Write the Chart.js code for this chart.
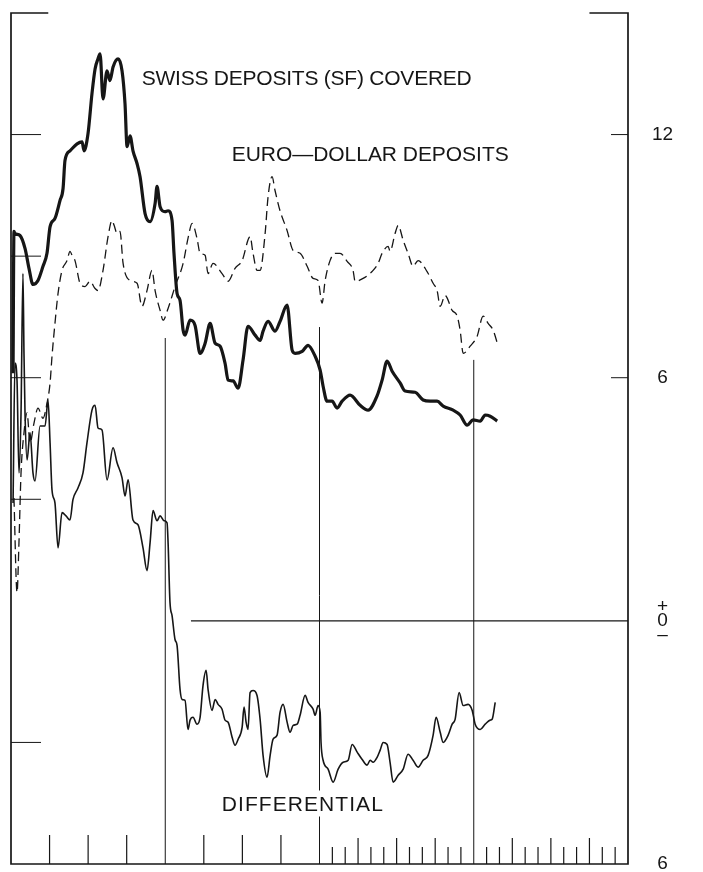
<!DOCTYPE html>
<html>
<head>
<meta charset="utf-8">
<title>Swiss deposits covered vs Euro-dollar deposits</title>
<script src="https://cdn.jsdelivr.net/npm/chart.js@4.4.1/dist/chart.umd.min.js"></script>
<style>
  html, body { margin: 0; padding: 0; background: #fff; }
  canvas { display: block; }
</style>
</head>
<body>
<canvas id="chart" width="703" height="872"></canvas>
<script>
// months from the start of the period, percent per annum
const swissCovered = [
  [0.16, 6.11], [0.23, 9.61], [0.31, 9.56], [0.70, 9.51], [1.09, 9.19], [1.40, 8.70], [1.71, 8.30],
  [2.10, 8.40], [2.49, 8.75], [2.80, 9.07], [3.04, 9.73], [3.42, 9.93], [3.81, 10.37], [4.05, 10.67],
  [4.20, 11.36], [4.59, 11.60], [5.14, 11.77], [5.53, 11.82], [5.68, 11.60], [5.99, 12.02], [6.30, 13.01],
  [6.54, 13.62], [6.77, 13.87], [6.93, 13.99], [7.16, 12.88], [7.47, 13.57], [7.70, 13.33], [7.94, 13.67],
  [8.33, 13.87], [8.64, 13.57], [8.87, 12.76], [9.03, 11.70], [9.26, 11.97], [9.49, 11.60], [9.81, 11.28],
  [10.04, 10.96], [10.43, 10.05], [10.82, 9.85], [11.21, 10.30], [11.36, 10.72], [11.60, 10.22], [11.98, 10.10],
  [12.22, 10.12], [12.53, 9.88], [12.68, 9.07], [12.92, 8.08], [13.15, 7.91], [13.39, 7.17], [13.54, 7.05],
  [13.93, 7.42], [14.32, 7.29], [14.71, 6.60], [15.10, 6.85], [15.49, 7.34], [15.88, 6.85], [16.26, 6.78],
  [16.65, 6.36], [16.89, 5.94], [17.28, 5.92], [17.67, 5.74], [18.05, 6.43], [18.44, 7.27], [18.99, 7.05],
  [19.38, 6.92], [19.61, 7.15], [20.00, 7.39], [20.54, 7.15], [20.93, 7.39], [21.48, 7.79], [21.87, 6.68],
  [22.10, 6.60], [22.65, 6.65], [23.11, 6.80], [23.66, 6.53], [24.05, 6.19], [24.28, 5.79], [24.59, 5.42],
  [24.98, 5.42], [25.37, 5.25], [25.76, 5.42], [26.38, 5.57], [27.16, 5.32], [27.78, 5.20], [28.48, 5.55],
  [28.87, 5.94], [29.26, 6.41], [29.65, 6.16], [30.27, 5.87], [30.66, 5.67], [31.44, 5.64], [32.06, 5.45],
  [32.61, 5.42], [33.15, 5.42], [33.62, 5.30], [34.40, 5.20], [34.94, 5.08], [35.49, 4.83], [35.95, 4.96],
  [36.50, 4.93], [36.89, 5.08], [37.28, 5.05], [37.82, 4.93]
];

const euroDollar = [
  [0.23, 3.03], [0.47, 0.70], [0.62, 1.93], [0.78, 3.65], [1.01, 4.64], [1.25, 5.13], [1.48, 4.39],
  [1.79, 4.88], [2.10, 5.25], [2.49, 5.00], [2.80, 5.37], [3.04, 5.87], [3.19, 6.53], [3.42, 7.34],
  [3.66, 8.08], [3.97, 8.65], [4.36, 8.89], [4.59, 9.12], [4.75, 9.02], [4.98, 8.89], [5.37, 8.33],
  [5.76, 8.25], [6.15, 8.38], [6.54, 8.20], [6.77, 8.15], [7.16, 8.65], [7.55, 9.48], [7.86, 9.88],
  [8.02, 9.76], [8.25, 9.56], [8.48, 9.61], [8.72, 8.82], [9.26, 8.40], [9.81, 8.33], [10.19, 7.76],
  [10.58, 8.15], [10.97, 8.65], [11.21, 8.15], [11.60, 7.66], [11.83, 7.42], [12.22, 7.71], [12.76, 8.25],
  [13.39, 8.82], [13.77, 9.44], [14.09, 9.81], [14.47, 9.44], [14.71, 9.07], [15.10, 9.02], [15.33, 8.57],
  [15.72, 8.82], [16.42, 8.57], [16.89, 8.38], [17.43, 8.70], [17.98, 8.89], [18.60, 9.48], [18.83, 9.07],
  [19.14, 8.65], [19.38, 8.65], [19.77, 9.56], [20.00, 10.47], [20.31, 10.96], [20.54, 10.62], [20.93, 10.12],
  [21.48, 9.63], [21.95, 9.14], [22.49, 9.07], [23.04, 8.75], [23.50, 8.45], [23.89, 8.40], [24.20, 7.84],
  [24.44, 8.40], [24.82, 8.89], [25.21, 9.07], [25.60, 9.07], [26.15, 8.87], [26.61, 8.65], [26.77, 8.38],
  [27.39, 8.45], [28.09, 8.62], [28.56, 8.82], [28.87, 9.07], [29.34, 9.24], [29.49, 9.12], [29.88, 9.56],
  [30.12, 9.76], [30.51, 9.39], [30.89, 9.07], [31.28, 8.75], [31.67, 8.89], [32.37, 8.62], [32.84, 8.33],
  [33.15, 8.15], [33.39, 7.76], [33.77, 8.03], [34.32, 7.66], [34.71, 7.52], [34.94, 7.17], [35.18, 6.60],
  [35.72, 6.78], [36.26, 7.02], [36.73, 7.52], [37.12, 7.34], [37.51, 7.17], [37.90, 6.78]
];

const differential = [
  [0.16, 2.91], [0.31, 6.36], [0.47, 5.92], [0.62, 3.65], [0.78, 5.13], [0.93, 8.57], [1.01, 6.60],
  [1.09, 5.13], [1.25, 3.97], [1.48, 4.64], [1.71, 3.65], [1.87, 3.45], [2.26, 4.81], [2.65, 4.81],
  [2.88, 5.45], [3.04, 4.39], [3.19, 3.23], [3.42, 2.91], [3.66, 1.80], [3.97, 2.67], [4.28, 2.59],
  [4.59, 2.49], [4.82, 2.99], [5.21, 3.28], [5.60, 3.65], [5.91, 4.39], [6.30, 5.20], [6.54, 5.32],
  [6.77, 4.76], [7.08, 4.71], [7.47, 3.48], [7.94, 4.27], [8.25, 3.90], [8.64, 3.53], [8.87, 3.08],
  [9.11, 3.48], [9.49, 2.49], [9.88, 2.37], [10.27, 1.80], [10.58, 1.24], [10.82, 1.93], [11.05, 2.72],
  [11.36, 2.47], [11.60, 2.59], [11.91, 2.47], [12.14, 2.42], [12.22, 1.93], [12.37, 0.45], [12.53, 0.13],
  [12.76, -0.46], [12.92, -0.61], [13.15, -1.69], [13.31, -1.94], [13.54, -1.96], [13.77, -2.68], [13.93, -2.45],
  [14.16, -2.38], [14.47, -2.55], [14.71, -2.38], [14.94, -1.59], [15.18, -1.22], [15.33, -1.69], [15.64, -2.21],
  [15.88, -1.94], [16.11, -2.06], [16.42, -2.18], [16.65, -2.45], [16.89, -2.50], [17.20, -2.87], [17.43, -3.07],
  [17.67, -2.92], [17.98, -2.63], [18.13, -2.13], [18.29, -2.50], [18.44, -2.68], [18.60, -1.77], [18.83, -1.72],
  [19.14, -1.84], [19.38, -2.43], [19.61, -3.32], [19.92, -3.86], [20.16, -3.32], [20.39, -2.92], [20.70, -2.82],
  [20.93, -2.26], [21.17, -2.06], [21.48, -2.50], [21.71, -2.75], [21.95, -2.58], [22.26, -2.55], [22.49, -2.33],
  [22.88, -1.84], [23.11, -2.01], [23.50, -2.18], [23.66, -2.33], [23.89, -2.09], [24.05, -2.26], [24.12, -3.00],
  [24.28, -3.44], [24.67, -3.66], [25.06, -3.98], [25.45, -3.66], [25.84, -3.49], [26.23, -3.44], [26.54, -3.05],
  [26.93, -3.24], [27.32, -3.42], [27.70, -3.56], [27.94, -3.44], [28.17, -3.49], [28.48, -3.37], [28.72, -3.19],
  [28.95, -3.00], [29.26, -3.05], [29.49, -3.49], [29.73, -3.98], [30.12, -3.81], [30.51, -3.66], [30.89, -3.29],
  [31.28, -3.44], [31.67, -3.61], [32.06, -3.44], [32.45, -3.32], [32.84, -2.82], [33.07, -2.38], [33.39, -2.75],
  [33.62, -3.00], [34.01, -2.82], [34.32, -2.55], [34.55, -2.43], [34.86, -1.77], [35.18, -2.09], [35.56, -2.06],
  [35.88, -2.21], [36.11, -2.55], [36.50, -2.68], [36.89, -2.55], [37.28, -2.45], [37.43, -2.43], [37.67, -2.01]
];

// axis furniture
const rightLabels = [-6, 0, 6, 12];
const leftTicks = [12, 9, 6, 3, -3];
const rightTicks = [12, 6];
const yearMonths = [12, 24, 36];
const yearLineTops = [6.98, 7.25, 6.44];
const quarterTicks = [3, 6, 9, 15, 18, 21];
const monthTicks = [25, 26, 27, 28, 29, 30, 31, 32, 33, 34, 35, 37, 38, 39, 40, 41, 42, 43, 44, 45, 46, 47];
const longMonthTicks = [27, 30, 33, 39, 42, 45];

const seriesLabels = [
  { text: 'SWISS DEPOSITS (SF) COVERED', month: 10.17, value: 13.22, width: 330 },
  { text: 'EURO\u2014DOLLAR DEPOSITS', month: 17.17, value: 11.35, width: 277 },
  { text: 'DIFFERENTIAL', month: 16.40, value: -4.68, width: 161, clear: true }
];

const INK = '#161616';
const FONT = '"Liberation Sans", Arial, sans-serif';

const toPoints = rows => rows.map(r => ({ x: r[0], y: r[1] }));

const framePlugin = {
  id: 'frame',
  beforeDatasetsDraw(chart) {
    const { ctx } = chart;
    const xs = chart.scales.x, ys = chart.scales.y;
    const px = m => xs.getPixelForValue(m);
    const py = v => ys.getPixelForValue(v);
    const left = px(0), right = px(48), top = py(15), bottom = py(-6);

    const seg = (x1, y1, x2, y2) => {
      ctx.beginPath();
      ctx.moveTo(x1, y1);
      ctx.lineTo(x2, y2);
      ctx.stroke();
    };

    ctx.save();
    ctx.strokeStyle = INK;
    ctx.lineCap = 'butt';

    // box with open top
    ctx.lineWidth = 1.7;
    ctx.beginPath();
    ctx.moveTo(px(2.9), top);
    ctx.lineTo(left, top);
    ctx.lineTo(left, bottom);
    ctx.lineTo(right, bottom);
    ctx.lineTo(right, top);
    ctx.lineTo(px(45), top);
    ctx.stroke();

    // inward ticks on the value axes
    ctx.lineWidth = 1;
    leftTicks.forEach(v => seg(left, py(v), left + 30, py(v)));
    rightTicks.forEach(v => seg(right - 17, py(v), right, py(v)));

    // zero line
    ctx.lineWidth = 1.1;
    seg(px(14), py(0), right, py(0));

    // year lines
    ctx.lineWidth = 1;
    yearMonths.forEach((m, i) => seg(px(m), py(yearLineTops[i]), px(m), bottom));

    // time ticks pointing up from the bottom axis
    ctx.lineWidth = 1.2;
    quarterTicks.forEach(m => seg(px(m), bottom, px(m), bottom - 29));
    monthTicks.forEach(m => {
      const h = longMonthTicks.includes(m) ? 26 : 17;
      seg(px(m), bottom, px(m), bottom - h);
    });

    // series names
    ctx.fillStyle = INK;
    ctx.font = '21px ' + FONT;
    ctx.textBaseline = 'alphabetic';
    ctx.textAlign = 'left';
    seriesLabels.forEach(l => {
      ctx.letterSpacing = '0px';
      const w = ctx.measureText(l.text).width;
      const ls = (l.width - w) / (l.text.length - 1);
      const x0 = px(l.month), y0 = py(l.value);
      if (l.clear) {
        ctx.fillStyle = '#fff';
        ctx.fillRect(x0 - 2, y0 - 20, l.width + 4, 26);
        ctx.fillStyle = INK;
      }
      ctx.letterSpacing = ls.toFixed(2) + 'px';
      ctx.fillText(l.text, x0, y0);
    });
    ctx.letterSpacing = '0px';
    ctx.restore();
  }
};

new Chart(document.getElementById('chart'), {
  type: 'line',
  data: {
    datasets: [
      {
        label: 'Swiss deposits (SF) covered',
        data: toPoints(swissCovered),
        borderColor: INK,
        borderWidth: 3.2,
        pointRadius: 0,
        cubicInterpolationMode: 'monotone',
        borderJoinStyle: 'round'
      },
      {
        label: 'Euro-dollar deposits',
        data: toPoints(euroDollar),
        borderColor: INK,
        borderWidth: 1.3,
        borderDash: [9, 5],
        pointRadius: 0,
        cubicInterpolationMode: 'monotone'
      },
      {
        label: 'Differential',
        data: toPoints(differential),
        borderColor: INK,
        borderWidth: 1.6,
        pointRadius: 0,
        cubicInterpolationMode: 'monotone',
        borderJoinStyle: 'round'
      }
    ]
  },
  options: {
    responsive: false,
    animation: false,
    layout: { padding: { left: 11, top: 13, bottom: 8, right: 0 } },
    plugins: { legend: { display: false }, tooltip: { enabled: false } },
    scales: {
      x: { type: 'linear', min: 0, max: 48, display: false },
      y: {
        type: 'linear',
        position: 'right',
        min: -6,
        max: 15,
        afterBuildTicks: axis => { axis.ticks = rightLabels.map(v => ({ value: v })); },
        afterFit: axis => {
          axis.width = 75;
          axis.paddingTop = 0;
          axis.paddingBottom = 0;
        },
        grid: { display: false, drawTicks: false },
        border: { display: false },
        ticks: {
          color: INK,
          font: { family: FONT, size: 19, lineHeight: 0.74 },
          padding: 24,
          crossAlign: 'center',
          autoSkip: false,
          callback: v => v === 0 ? ['+', '0', '\u2013'] : String(Math.abs(v))
        }
      }
    }
  },
  plugins: [framePlugin]
});
</script>
</body>
</html>
